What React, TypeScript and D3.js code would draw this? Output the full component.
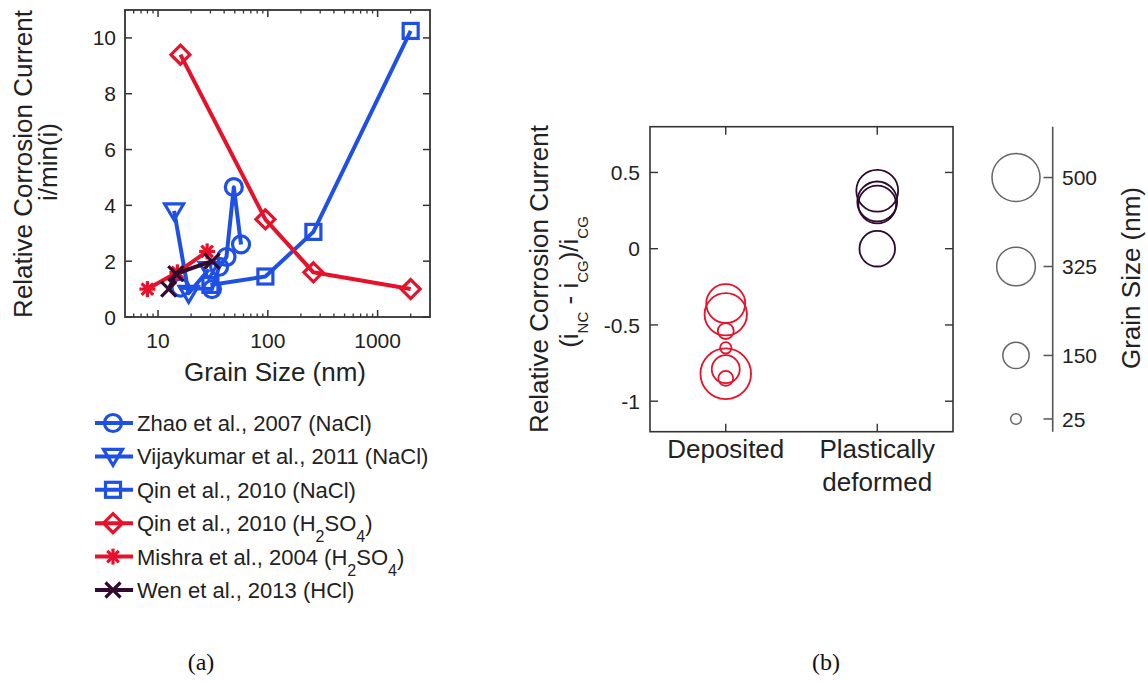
import React from "react";
import * as d3 from "d3";

// ---------- Panel (a) data ----------
const zhaoGrain = [16, 31, 36, 42, 49, 57];
const zhaoCurrent = [1.05, 1.0, 1.8, 2.15, 4.65, 2.6];
const vijayGrain = [14, 19, 29];
const vijayCurrent = [3.8, 0.85, 1.7];
const qinNaClGrain = [30, 95, 260, 2000];
const qinNaClCurrent = [1.15, 1.45, 3.05, 10.25];
const qinH2SO4Grain = [16, 95, 260, 2000];
const qinH2SO4Current = [9.4, 3.5, 1.6, 1.0];
const mishraGrain = [8, 15, 28];
const mishraCurrent = [1.0, 1.6, 2.35];
const wenGrain = [12.5, 14.5, 31];
const wenCurrent = [1.0, 1.55, 2.0];

const yTicksA = [0, 2, 4, 6, 8, 10];
const xMajorTicksA = [10, 100, 1000];

// ---------- Panel (b) data ----------
const categories = ["Deposited", "Plastically deformed"];
const categoryLines = [["Deposited"], ["Plastically", "deformed"]];
const depositedValue = [-0.36, -0.43, -0.54, -0.65, -0.82, -0.79, -0.85];
const depositedGrain = [330, 390, 55, 28, 555, 170, 48];
const deformedValue = [0.38, 0.31, 0.29, 0.0];
const deformedGrain = [380, 345, 310, 275];
const yTicksB = [-1, -0.5, 0, 0.5];
const sizeLegendValues = [500, 325, 150, 25];

const BLUE = "#1f50e6";
const RED = "#e6122b";
const DARK = "#32092f";
const PURPLE = "#2c0b2e";
const AXIS = "#333333";
const FONT = "'Liberation Sans', Arial, Helvetica, sans-serif";

type Part = { t: string; sub?: boolean };
type Series = { name: Part[]; xs: number[]; ys: number[]; color: string; marker: string };

const seriesA: Series[] = [
  { name: [{ t: "Zhao et al., 2007 (NaCl)" }], xs: zhaoGrain, ys: zhaoCurrent, color: BLUE, marker: "circle" },
  { name: [{ t: "Vijaykumar et al., 2011 (NaCl)" }], xs: vijayGrain, ys: vijayCurrent, color: BLUE, marker: "triangle" },
  { name: [{ t: "Qin et al., 2010 (NaCl)" }], xs: qinNaClGrain, ys: qinNaClCurrent, color: BLUE, marker: "square" },
  {
    name: [{ t: "Qin et al., 2010 (H" }, { t: "2", sub: true }, { t: "SO" }, { t: "4", sub: true }, { t: ")" }],
    xs: qinH2SO4Grain, ys: qinH2SO4Current, color: RED, marker: "diamond",
  },
  {
    name: [{ t: "Mishra et al., 2004 (H" }, { t: "2", sub: true }, { t: "SO" }, { t: "4", sub: true }, { t: ")" }],
    xs: mishraGrain, ys: mishraCurrent, color: RED, marker: "star",
  },
  { name: [{ t: "Wen et al., 2013 (HCl)" }], xs: wenGrain, ys: wenCurrent, color: DARK, marker: "x" },
];

function Marker({ type, cx, cy, color }: { type: string; cx: number; cy: number; color: string }) {
  const sw = 3.2;
  const common = { fill: "none", stroke: color, strokeWidth: sw };
  if (type === "circle") return <circle cx={cx} cy={cy} r={8.5} {...common} />;
  if (type === "square") return <rect x={cx - 7.5} y={cy - 7.5} width={15} height={15} {...common} />;
  if (type === "diamond")
    return <polygon points={`${cx},${cy - 9.5} ${cx + 9.5},${cy} ${cx},${cy + 9.5} ${cx - 9.5},${cy}`} {...common} />;
  if (type === "triangle")
    return <polygon points={`${cx - 9.5},${cy - 7} ${cx + 9.5},${cy - 7} ${cx},${cy + 9}`} {...common} />;
  if (type === "star") {
    const s = 8;
    const d = s * 0.72;
    return (
      <g stroke={color} strokeWidth={sw}>
        <line x1={cx - s} y1={cy} x2={cx + s} y2={cy} />
        <line x1={cx} y1={cy - s} x2={cx} y2={cy + s} />
        <line x1={cx - d} y1={cy - d} x2={cx + d} y2={cy + d} />
        <line x1={cx - d} y1={cy + d} x2={cx + d} y2={cy - d} />
      </g>
    );
  }
  const s = 7.5;
  return (
    <g stroke={color} strokeWidth={sw}>
      <line x1={cx - s} y1={cy - s} x2={cx + s} y2={cy + s} />
      <line x1={cx - s} y1={cy + s} x2={cx + s} y2={cy - s} />
    </g>
  );
}

function Parts({ parts, subSize, subDy }: { parts: Part[]; subSize: number; subDy: number }) {
  const out: React.ReactNode[] = [];
  let shifted = false;
  parts.forEach((p, i) => {
    let dy = 0;
    if (p.sub && !shifted) { dy = subDy; shifted = true; }
    else if (!p.sub && shifted) { dy = -subDy; shifted = false; }
    out.push(
      <tspan key={i} dy={dy || undefined} fontSize={p.sub ? subSize : undefined}>{p.t}</tspan>
    );
  });
  return <>{out}</>;
}

export default function App() {
  // Panel (a) scales
  const xL = d3.scaleLog().domain([5, 3000]).range([125, 430]);
  const yL = d3.scaleLinear().domain([0, 11]).range([317, 10]);
  const line = d3.line<[number, number]>().x((d) => xL(d[0])).y((d) => yL(d[1]));
  const minorA = xL.ticks().filter((t) => t > 5 && t < 3000 && !xMajorTicksA.includes(t));

  // Panel (b) scales
  const xR = d3.scalePoint<string>().domain(categories).range([650, 953]).padding(0.5);
  const yR = d3.scaleLinear().domain([-1.2, 0.8]).range([431.7, 126.7]);
  const rScale = d3.scaleSqrt().domain([0, 500]).range([0, 24]);
  const ySize = d3.scaleLinear().domain([0, 600]).range([431.7, 126.7]);

  const legendY = d3.scaleLinear().domain([0, 5]).range([423, 590]);

  const bL = { x0: 125, x1: 430, y0: 10, y1: 317 };
  const bR = { x0: 650, x1: 953, y0: 126.7, y1: 431.7 };

  return (
    <div style={{ position: "fixed", left: 0, top: 0, width: 1148, height: 684, background: "#fff" }}>
      <svg width={1148} height={684} style={{ display: "block" }} fontFamily={FONT}>
        <rect x={0} y={0} width={1148} height={684} fill="#fff" />

        {/* ===== Panel (a) ===== */}
        <g>
          {seriesA.map((s, i) => {
            const pts = s.xs.map((x, j) => [x, s.ys[j]] as [number, number]);
            return (
              <g key={i}>
                <path d={line(pts) || ""} fill="none" stroke={s.color} strokeWidth={4} strokeLinejoin="round" />
                {pts.map((p, j) => (
                  <Marker key={j} type={s.marker} cx={xL(p[0])} cy={yL(p[1])} color={s.color} />
                ))}
              </g>
            );
          })}
          <rect x={bL.x0} y={bL.y0} width={bL.x1 - bL.x0} height={bL.y1 - bL.y0} fill="none" stroke={AXIS} strokeWidth={1.8} />
          {yTicksA.map((t) => (
            <g key={t}>
              <line x1={bL.x0} x2={bL.x0 + 7} y1={yL(t)} y2={yL(t)} stroke={AXIS} strokeWidth={1.5} />
              <line x1={bL.x1} x2={bL.x1 - 7} y1={yL(t)} y2={yL(t)} stroke={AXIS} strokeWidth={1.5} />
              <text x={bL.x0 - 9} y={yL(t)} dy="0.36em" textAnchor="end" fontSize={21} fill="#222">{t}</text>
            </g>
          ))}
          {xMajorTicksA.map((t) => (
            <g key={t}>
              <line x1={xL(t)} x2={xL(t)} y1={bL.y1} y2={bL.y1 - 7} stroke={AXIS} strokeWidth={1.5} />
              <line x1={xL(t)} x2={xL(t)} y1={bL.y0} y2={bL.y0 + 7} stroke={AXIS} strokeWidth={1.5} />
              <text x={xL(t)} y={348} textAnchor="middle" fontSize={21} fill="#222">{t}</text>
            </g>
          ))}
          {minorA.map((t) => (
            <g key={t}>
              <line x1={xL(t)} x2={xL(t)} y1={bL.y1} y2={bL.y1 - 3.5} stroke={AXIS} strokeWidth={1.3} />
              <line x1={xL(t)} x2={xL(t)} y1={bL.y0} y2={bL.y0 + 3.5} stroke={AXIS} strokeWidth={1.3} />
            </g>
          ))}
          <text x={275} y={381} textAnchor="middle" fontSize={26} fill="#222">Grain Size (nm)</text>
          <g transform={`translate(32,164) rotate(-90)`}>
            <text textAnchor="middle" fontSize={26} fill="#222">Relative Corrosion Current</text>
          </g>
          <g transform={`translate(57,162) rotate(-90)`}>
            <text textAnchor="middle" fontSize={26} fill="#222">i/min(i)</text>
          </g>

          {/* legend */}
          {seriesA.map((s, i) => {
            const y = legendY(i);
            return (
              <g key={i}>
                <line x1={95} x2={133} y1={y} y2={y} stroke={s.color} strokeWidth={4} />
                <Marker type={s.marker} cx={113} cy={y} color={s.color} />
                <text x={137} y={y} dy="0.36em" fontSize={22} fill="#222">
                  <Parts parts={s.name} subSize={16} subDy={11} />
                </text>
              </g>
            );
          })}
        </g>

        {/* ===== Panel (b) ===== */}
        <g>
          {depositedValue.map((v, i) => (
            <circle key={"d" + i} cx={xR(categories[0])} cy={yR(v)} r={rScale(depositedGrain[i])}
              fill="none" stroke={RED} strokeWidth={1.8} />
          ))}
          {deformedValue.map((v, i) => (
            <circle key={"p" + i} cx={xR(categories[1])} cy={yR(v)} r={rScale(deformedGrain[i])}
              fill="none" stroke={PURPLE} strokeWidth={1.8} />
          ))}
          <rect x={bR.x0} y={bR.y0} width={bR.x1 - bR.x0} height={bR.y1 - bR.y0} fill="none" stroke={AXIS} strokeWidth={1.6} />
          {yTicksB.map((t) => (
            <g key={t}>
              <line x1={bR.x0} x2={bR.x0 + 8} y1={yR(t)} y2={yR(t)} stroke={AXIS} strokeWidth={1.4} />
              <line x1={bR.x1} x2={bR.x1 - 8} y1={yR(t)} y2={yR(t)} stroke={AXIS} strokeWidth={1.4} />
              <text x={640} y={yR(t)} dy="0.36em" textAnchor="end" fontSize={21} fill="#222">{t}</text>
            </g>
          ))}
          {categories.map((c, i) => (
            <g key={c}>
              <line x1={xR(c)} x2={xR(c)} y1={bR.y1} y2={bR.y1 - 8} stroke={AXIS} strokeWidth={1.4} />
              <line x1={xR(c)} x2={xR(c)} y1={bR.y0} y2={bR.y0 + 8} stroke={AXIS} strokeWidth={1.4} />
              {categoryLines[i].map((ln, k) => (
                <text key={k} x={xR(c)} y={458 + k * 33} textAnchor="middle" fontSize={26} fill="#222">{ln}</text>
              ))}
            </g>
          ))}
          <g transform={`translate(548,279) rotate(-90)`}>
            <text textAnchor="middle" fontSize={26} fill="#222">Relative Corrosion Current</text>
          </g>
          <g transform={`translate(578,282) rotate(-90)`}>
            <text textAnchor="middle" fontSize={26} fill="#222">
              <Parts
                parts={[{ t: "(i" }, { t: "NC", sub: true }, { t: " - i" }, { t: "CG", sub: true }, { t: ")/i" }, { t: "CG", sub: true }]}
                subSize={15}
                subDy={10}
              />
            </text>
          </g>

          {/* size legend */}
          <line x1={1052.7} x2={1052.7} y1={126.7} y2={431.7} stroke="#555" strokeWidth={1.6} />
          {sizeLegendValues.map((v) => (
            <g key={v}>
              <line x1={1052.7} x2={1043.5} y1={ySize(v)} y2={ySize(v)} stroke="#555" strokeWidth={1.5} />
              <circle cx={1016} cy={ySize(v)} r={rScale(v)} fill="none" stroke="#666" strokeWidth={1.5} />
              <text x={1062} y={ySize(v)} dy="0.36em" fontSize={21} fill="#222">{v}</text>
            </g>
          ))}
          <g transform={`translate(1140,278) rotate(-90)`}>
            <text textAnchor="middle" fontSize={26} fill="#222">Grain Size (nm)</text>
          </g>
        </g>

        {/* panel labels */}
        <text x={201} y={670} textAnchor="middle" fontSize={24} fontFamily="'Liberation Serif', 'Times New Roman', serif" fill="#111">(a)</text>
        <text x={826} y={670} textAnchor="middle" fontSize={24} fontFamily="'Liberation Serif', 'Times New Roman', serif" fill="#111">(b)</text>
      </svg>
    </div>
  );
}
